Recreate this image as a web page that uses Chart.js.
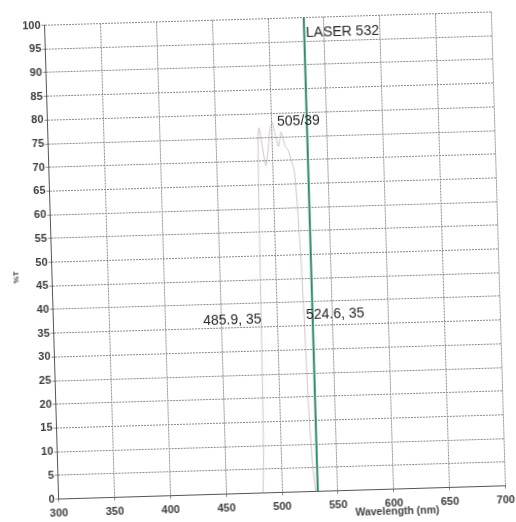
<!DOCTYPE html>
<html>
<head>
<meta charset="utf-8">
<script src="https://cdn.jsdelivr.net/npm/chart.js@4"></script>
<style>
    html, body { margin: 0; padding: 0; background: #ffffff; }
    #wrap { width: 516px; height: 522px; overflow: hidden; }
    /* 原圖是掃描件, 微微逆時針歪斜 */
    #myChart { transform: rotate(-1.7deg); transform-origin: 275px 255.5px; }
</style>
</head>
<body>
<div id="wrap"><canvas id="myChart" width="516" height="522"></canvas></div>
<script>
// 濾光片穿透率 (讀圖估計)
let wavelengths = [483, 484.5, 485.9, 487, 488, 489, 491, 494.3, 497, 499, 501.4, 503, 505.9, 507, 508.6, 510, 512, 514.8, 517, 519.3, 521, 523, 524.6, 526, 528, 530]
let transmission = [0, 8, 35, 62, 75, 77, 74, 69, 73, 77, 78, 76, 73, 74, 76, 75, 73, 72, 70, 68, 62, 50, 35, 18, 6, 0]

// 雷射線
let laserWavelength = [532, 532]
let laserLevel = [0, 100]

// 軸刻度
let xTicks = [300, 350, 400, 450, 500, 550, 600, 650, 700]
let yTicks = [0, 5, 10, 15, 20, 25, 30, 35, 40, 45, 50, 55, 60, 65, 70, 75, 80, 85, 90, 95, 100]

// 圖上的註記文字
let noteTexts = ["LASER 532", "505/39", "485.9, 35", "524.6, 35"]
let noteX = [533.6, 505.4, 433.9, 526.1]
let noteY = [96.7, 78.1, 36.6, 37.3]

let xTitle = "Wavelength (nm)"
let yTitle = "%T"


function toPoints(xs, ys){
    let pts = []
    for (let i=0; i<xs.length; i++){
        pts.push({x: xs[i], y: ys[i]})
    }
    return pts
}


// 註記 + 軸標題
const notePlugin = {
    id: 'notes',
    afterDatasetsDraw(chart){
        let ctx = chart.ctx
        let xs = chart.scales.x
        let ys = chart.scales.y
        ctx.save()
        ctx.fillStyle = '#262626'
        ctx.font = "14px 'Liberation Sans', Arial, sans-serif"
        ctx.textAlign = 'left'
        ctx.textBaseline = 'middle'
        for (let i=0; i<noteTexts.length; i++){
            ctx.fillText(noteTexts[i], xs.getPixelForValue(noteX[i]), ys.getPixelForValue(noteY[i]))
        }

        // x title, 在 600 nm 附近
        ctx.font = "bold 10.5px 'Liberation Sans', Arial, sans-serif"
        ctx.fillStyle = '#444'
        ctx.textAlign = 'center'
        ctx.fillText(xTitle, xs.getPixelForValue(602.7), chart.chartArea.bottom + 23)

        // y title
        ctx.translate(16, ys.getPixelForValue(47))
        ctx.rotate(-Math.PI / 2)
        ctx.font = "bold 8px 'Liberation Sans', Arial, sans-serif"
        ctx.fillText(yTitle, 0, 0)
        ctx.restore()
    }
}


function newChart(){
    let canvasNew = document.querySelector('#myChart').getContext('2d')

    new Chart(canvasNew, {
        type: 'scatter',
        data: {
            datasets: [
                {
                    label: '505/39',
                    data: toPoints(wavelengths, transmission),
                    showLine: true,
                    borderColor: 'rgba(165, 140, 150, 0.5)',
                    borderWidth: 1,
                    pointRadius: 0,
                    tension: 0.2,
                },
                {
                    label: 'LASER 532',
                    data: toPoints(laserWavelength, laserLevel),
                    showLine: true,
                    borderColor: '#2b8a62',
                    borderWidth: 2,
                    pointRadius: 0,
                },
            ]
        },
        options: {
            responsive: false,
            animation: false,
            scales: {
                x: {
                    type: 'linear',
                    min: 300,
                    max: 700,
                    afterBuildTicks: scale => {
                        scale.ticks = xTicks.map(v => ({value: v}))
                    },
                    afterFit: scale => {
                        scale.height = 29.5
                    },
                    ticks: {
                        color: '#3c3c3c',
                        padding: 5,
                        font: {
                            family: "'Liberation Sans', Arial, sans-serif",
                            size: 11,
                            weight: 'bold',
                        },
                    },
                    grid: {
                        color: '#8a8a8a',
                        tickLength: 3,
                    },
                    border: {
                        color: '#555',
                        dash: [2, 1],
                    },
                },
                y: {
                    min: 0,
                    max: 100,
                    afterBuildTicks: scale => {
                        scale.ticks = yTicks.map(v => ({value: v}))
                    },
                    afterFit: scale => {
                        scale.width = 51.5
                    },
                    ticks: {
                        color: '#3c3c3c',
                        padding: 1,
                        font: {
                            family: "'Liberation Sans', Arial, sans-serif",
                            size: 11,
                            weight: 'bold',
                        },
                    },
                    grid: {
                        color: '#8a8a8a',
                        tickLength: 3,
                    },
                    border: {
                        color: '#555',
                        dash: [2, 1],
                    },
                },
            },
            plugins: {
                legend: { display: false },
                tooltip: { enabled: false },
            },
            layout: {
                padding: {left: 0, right: 17.5, top: 18.5, bottom: 0}
            },
        },
        plugins: [notePlugin]
    });
}


newChart()
</script>
</body>
</html>
